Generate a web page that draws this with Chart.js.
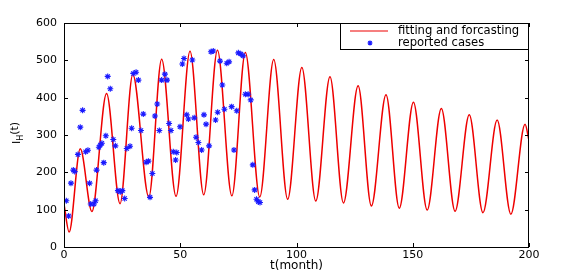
<!DOCTYPE html>
<html>
<head>
<meta charset="utf-8">
<script src="https://cdn.jsdelivr.net/npm/chart.js@4/dist/chart.umd.min.js"></script>
<style>
  html, body { margin: 0; padding: 0; background: #fff; }
  canvas { display: block; }
</style>
</head>
<body>
<canvas id="chart" width="570" height="279"></canvas>
<script>
// model curve: values read at start, each trough / peak, and end
const fitMonths = [0, 2.2, 7, 12, 18.3, 24.1, 29.6, 36.5, 42, 48.2, 54.2, 60.1, 66, 72.2, 78, 84.2,
  90.2, 96.2, 102.3, 108.3, 114.4, 120.2, 126.5, 132.2, 138.5, 144.2, 150.3, 156.2, 162.3, 168.2,
  174.3, 180.2, 186.3, 192.2, 198.3, 200];
const fitValues = [115, 40, 263, 95, 411, 116, 462, 134, 503, 136, 524, 140, 527, 137, 521, 134,
  502, 128, 481, 123, 456, 118, 432, 110, 408, 104, 388, 99, 371, 96,
  354, 92, 340, 88, 329, 285];

// reported cases
const reportMonths = [1, 2, 3, 4, 4.6, 6, 7, 8, 9.3, 10.3, 11, 11.5, 12.9, 13.6, 14, 15, 15.6, 16.3,
  17.1, 18, 18.8, 19.9, 21.2, 22.1, 23.2, 24.2, 25.1, 26.1, 27, 28.4, 29.1, 29.8, 31, 32, 33.1,
  34.1, 35.3, 36.3, 37, 38, 39.1, 40.1, 41, 42, 43.4, 44.3, 45.2, 46, 47, 48, 48.5, 49.9, 50.9,
  51.6, 52.8, 53.5, 55.2, 56, 56.8, 57.8, 59.2, 60.2, 61.1, 62.4, 63.2, 64.2, 65.2, 66.1, 67.1,
  68.1, 69, 70, 71, 72.1, 73.1, 74.3, 75, 76.1, 77, 78, 79.2, 80.3, 81.2, 82, 82.8, 83.6, 84.3];
const reportCases = [124, 83, 171, 206, 202, 248, 321, 366, 255, 259, 171, 115, 115, 124, 206, 267, 273, 278,
  226, 298, 457, 424, 288, 271, 151, 148, 151, 130, 264, 270, 318, 465, 468, 447, 312,
  356, 227, 230, 133, 197, 351, 383, 312, 447, 463, 447, 331, 312, 255, 233, 253, 322, 490,
  505, 354, 343, 501, 346, 294, 280, 260, 354, 329, 271, 523, 525, 340, 361, 498,
  434, 369, 492, 496, 376, 260, 365, 520, 517, 512, 409, 409, 394, 220, 153, 128, 121, 119];

const xTicks = [0, 50, 100, 150, 200];
const yTicks = [0, 100, 200, 300, 400, 500, 600];

const legendLabels = ['fitting and forcasting', 'reported cases'];

const FONT = '"DejaVu Sans", Verdana, sans-serif';

// frame, inward ticks, axis titles and legend, drawn MATLAB-style
const matlabFrame = {
  id: 'matlabFrame',
  afterDraw(chart) {
    const ctx = chart.ctx;
    const a = chart.chartArea;
    const xs = chart.scales.x;
    const ys = chart.scales.y;
    ctx.save();
    ctx.strokeStyle = '#000';
    ctx.lineWidth = 1;
    ctx.strokeRect(a.left + 0.5, a.top + 0.5, a.right - a.left - 1, a.bottom - a.top);

    ctx.beginPath();
    xTicks.forEach(v => {
      const px = Math.round(xs.getPixelForValue(v)) + 0.5;
      ctx.moveTo(px, a.bottom); ctx.lineTo(px, a.bottom - 4);
      ctx.moveTo(px, a.top); ctx.lineTo(px, a.top + 4);
    });
    yTicks.forEach(v => {
      const py = Math.round(ys.getPixelForValue(v)) + 0.5;
      ctx.moveTo(a.left, py); ctx.lineTo(a.left + 4, py);
      ctx.moveTo(a.right, py); ctx.lineTo(a.right - 4, py);
    });
    ctx.stroke();

    // x title
    ctx.fillStyle = '#000';
    ctx.font = '12px ' + FONT;
    ctx.textAlign = 'center';
    ctx.textBaseline = 'middle';
    ctx.fillText('t(month)', (a.left + a.right) / 2, 266);

    // y title  I_H(t)
    ctx.save();
    ctx.translate(16, 133);
    ctx.rotate(-Math.PI / 2);
    ctx.textAlign = 'left';
    ctx.textBaseline = 'alphabetic';
    ctx.font = '11px ' + FONT;
    const wI = ctx.measureText('I').width;
    const wT = ctx.measureText('(t)').width;
    ctx.font = '8px ' + FONT;
    const wH = ctx.measureText('H').width;
    let x0 = -(wI + wH + wT) / 2;
    ctx.font = '11px ' + FONT;
    ctx.fillText('I', x0, 4);
    ctx.font = '8px ' + FONT;
    ctx.fillText('H', x0 + wI, 7);
    ctx.font = '11px ' + FONT;
    ctx.fillText('(t)', x0 + wI + wH, 2);
    ctx.restore();

    // legend box
    const lx = 340, ly = 23, lw = a.right - lx, lh = 26;
    ctx.fillStyle = '#fff';
    ctx.fillRect(lx, ly, lw, lh);
    ctx.strokeStyle = '#000';
    ctx.strokeRect(lx + 0.5, ly + 0.5, lw - 1, lh);
    ctx.strokeStyle = chart.data.datasets[1].borderColor;
    ctx.lineWidth = 1.2;
    ctx.beginPath();
    ctx.moveTo(350, 31); ctx.lineTo(388, 31);
    ctx.stroke();
    ctx.strokeStyle = chart.data.datasets[0].borderColor;
    ctx.lineWidth = 1.2;
    ctx.beginPath();
    for (let k = 0; k < 4; k++) {
      const ang = k * Math.PI / 4;
      ctx.moveTo(370 - 2.5 * Math.cos(ang), 43 - 2.5 * Math.sin(ang));
      ctx.lineTo(370 + 2.5 * Math.cos(ang), 43 + 2.5 * Math.sin(ang));
    }
    ctx.stroke();
    ctx.fillStyle = '#000';
    ctx.font = '11.6px ' + FONT;
    ctx.textAlign = 'left';
    ctx.textBaseline = 'middle';
    ctx.fillText(legendLabels[0], 398, 31);
    ctx.fillText(legendLabels[1], 398, 43);
    ctx.restore();
  }
};

new Chart(document.getElementById('chart').getContext('2d'), {
  data: {
    datasets: [
      {
        type: 'scatter',
        label: legendLabels[1],
        data: reportMonths.map((m, i) => ({ x: m, y: reportCases[i] })),
        borderColor: '#1a1aff',
        backgroundColor: '#1a1aff',
        pointStyle: 'star',
        pointRadius: 3,
        pointBorderWidth: 1.1,
        showLine: false,
        order: 0
      },
      {
        type: 'line',
        label: legendLabels[0],
        data: fitMonths.map((m, i) => ({ x: m, y: fitValues[i] })),
        borderColor: '#ee0000',
        borderWidth: 1.5,
        pointRadius: 0,
        fill: false,
        cubicInterpolationMode: 'monotone',
        order: 1
      }
    ]
  },
  options: {
    responsive: false,
    animation: false,
    devicePixelRatio: 1,
    layout: { padding: { left: 0, right: 41, top: 23, bottom: 0 } },
    plugins: {
      legend: { display: false },
      tooltip: { enabled: false }
    },
    scales: {
      x: {
        type: 'linear',
        min: 0,
        max: 200,
        afterFit(scale) { scale.height = 32; },
        afterBuildTicks(scale) { scale.ticks = xTicks.map(v => ({ value: v })); },
        grid: { display: false, drawTicks: false },
        border: { display: false },
        ticks: { color: '#000', font: { family: FONT, size: 11 }, padding: 2, maxRotation: 0 }
      },
      y: {
        type: 'linear',
        min: 0,
        max: 600,
        afterFit(scale) { scale.width = 64; },
        afterBuildTicks(scale) { scale.ticks = yTicks.map(v => ({ value: v })); },
        grid: { display: false, drawTicks: false },
        border: { display: false },
        ticks: { color: '#000', font: { family: FONT, size: 11 }, padding: 7 }
      }
    }
  },
  plugins: [matlabFrame]
});
</script>
</body>
</html>
